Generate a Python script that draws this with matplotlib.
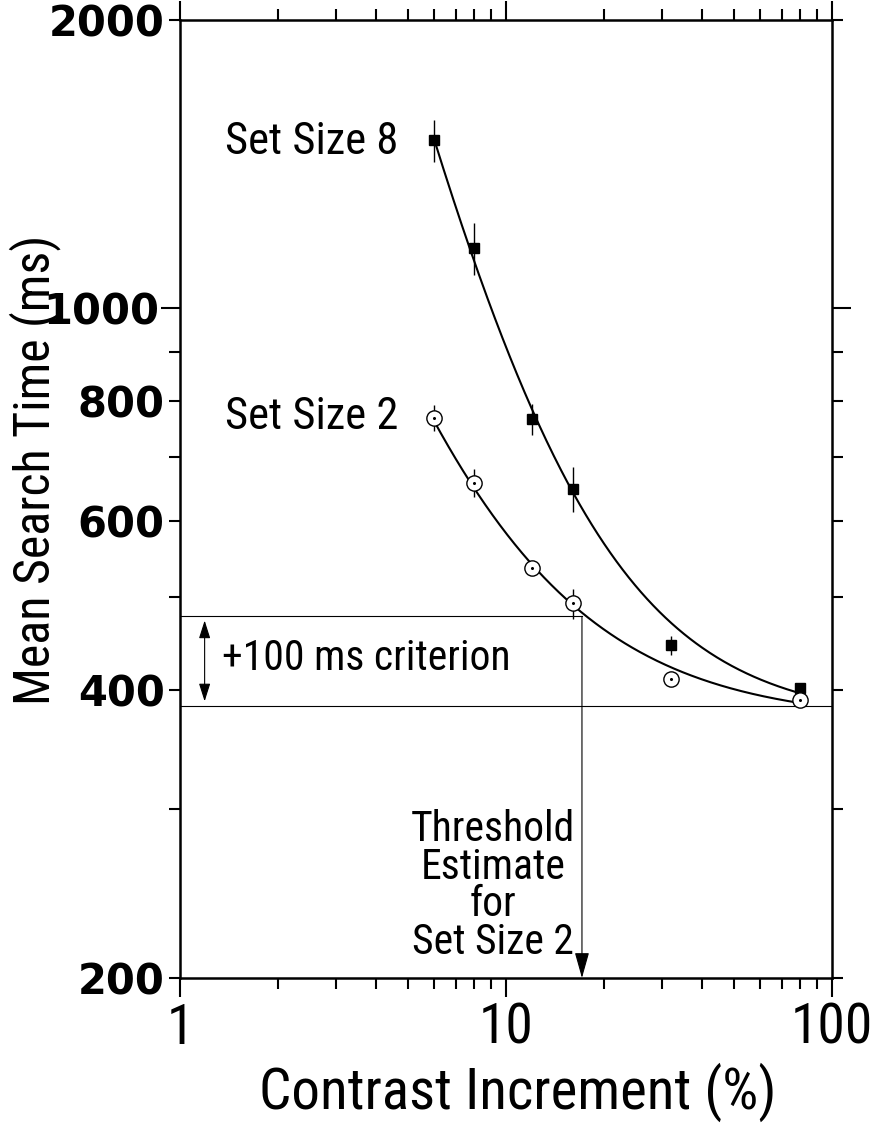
import numpy as np
import matplotlib
matplotlib.use('Agg')
import matplotlib.pyplot as plt
from matplotlib.ticker import FixedLocator, FuncFormatter, NullFormatter

# ---------------- data ----------------
contrast = [6, 8, 12, 16, 32, 80]
rt_set8 = [1498, 1156, 766, 648, 445, 402]
err_set8 = [75, 72, 28, 35, 10, 4]
rt_set2 = [768, 657, 536, 492, 410, 390]
err_set2 = [24, 22, 6, 18, 5, 3]

# fitted curves RT = a + b * contrast^-p (parameters estimated from the drawn curves)
fit_set8 = dict(a=370, b=15330, p=1.452)
fit_set2 = dict(a=370, b=3433, p=1.208)
fit_range = [6, 80]

baseline_rt = 385
criterion_rt = 477
threshold_set2 = 17.1

x_major = [1, 10, 100]
x_minor = [2, 3, 4, 5, 6, 7, 8, 9, 20, 30, 40, 50, 60, 70, 80, 90]
y_major = [1000]
y_minor = [200, 300, 400, 500, 600, 700, 800, 900, 2000]
y_labeled = [200, 400, 600, 800, 1000, 2000]

NARROW = ['Roboto Condensed', 'Archivo Narrow', 'DejaVu Sans']

fig = plt.figure(figsize=(8.74, 11.31), dpi=100)
L, R, T, B = 180, 832, 20, 978
W, H = 874, 1131
ax = fig.add_axes([L / W, 1 - B / H, (R - L) / W, (B - T) / H])
ax.set_xscale('log')
ax.set_yscale('log')
ax.set_xlim(1, 100)
ax.set_ylim(200, 2000)

for s in ax.spines.values():
    s.set_linewidth(1.8)

ax.xaxis.set_major_locator(FixedLocator(x_major))
ax.xaxis.set_minor_locator(FixedLocator(x_minor))
ax.xaxis.set_major_formatter(FuncFormatter(lambda v, p: f"{v:g}"))
ax.xaxis.set_minor_formatter(NullFormatter())
ax.yaxis.set_major_locator(FixedLocator(y_major))
ax.yaxis.set_minor_locator(FixedLocator(y_minor))
lab = lambda v, p: (f"{v:g}" if any(abs(v - t) < 1e-6 for t in y_labeled) else "")
ax.yaxis.set_major_formatter(FuncFormatter(lab))
ax.yaxis.set_minor_formatter(FuncFormatter(lab))

ax.tick_params(which='both', direction='out', top=True, right=True, width=1.5)
ax.tick_params(which='major', length=14)
ax.tick_params(which='minor', length=8)
ax.tick_params(axis='x', which='both', pad=3)
ax.tick_params(axis='y', which='major', pad=1)
ax.tick_params(axis='y', which='minor', pad=3)
for t in ax.get_xticklabels():
    t.set_family(NARROW); t.set_fontsize(40)
for t in ax.get_yticklabels(which='both'):
    t.set_family('DejaVu Sans'); t.set_fontweight('bold'); t.set_fontsize(30)

ax.set_xlabel('Contrast Increment (%)', family=NARROW, fontsize=41, va='center')
ax.xaxis.set_label_coords(0.518, -0.119)
ax.set_ylabel('Mean Search Time (ms)', family=NARROW, fontsize=36, va='center')
ax.yaxis.set_label_coords(-0.222, 0.53)

# fitted curves
xs = np.geomspace(fit_range[0], fit_range[1], 300)
for f in (fit_set8, fit_set2):
    ax.plot(xs, f['a'] + f['b'] * xs ** (-f['p']), color='black', lw=1.5, zorder=3)

# error bars and markers
ax.errorbar(contrast, rt_set8, yerr=err_set8, fmt='none', ecolor='black', elinewidth=1, capsize=0, zorder=2)
ax.errorbar(contrast, rt_set2, yerr=err_set2, fmt='none', ecolor='black', elinewidth=1, capsize=0, zorder=2)
ax.plot(contrast, rt_set8, 's', ms=7.5, color='black', zorder=4)
ax.plot(contrast, rt_set2, 'o', ms=11, mfc='white', mec='black', mew=1, zorder=4)
ax.plot(contrast, rt_set2, 'o', ms=1.2, color='black', zorder=5)

# criterion lines
ax.plot([1, threshold_set2], [criterion_rt, criterion_rt], color='black', lw=0.8, zorder=1)
ax.plot([1, 100], [baseline_rt, baseline_rt], color='black', lw=0.8, zorder=1)
ax.annotate('', xy=(threshold_set2, 200), xytext=(threshold_set2, criterion_rt),
            arrowprops=dict(arrowstyle='-|>,head_length=1.6,head_width=0.45', lw=0.8,
                            color='black', shrinkA=0, shrinkB=0), zorder=1)
ax.annotate('', xy=(1.19, baseline_rt), xytext=(1.19, criterion_rt),
            arrowprops=dict(arrowstyle='<|-|>,head_length=1.1,head_width=0.35', lw=0.8,
                            color='black', shrinkA=3, shrinkB=3))

# texts
ax.text(0.069, 0.873, 'Set Size 8', transform=ax.transAxes, family=NARROW, fontsize=32, ha='left', va='center')
ax.text(0.069, 0.586, 'Set Size 2', transform=ax.transAxes, family=NARROW, fontsize=32, ha='left', va='center')
ax.text(0.064, 0.334, '+100 ms criterion', transform=ax.transAxes, family=NARROW, fontsize=30, ha='left', va='center')
ax.text(0.480, 0.096, 'Threshold\nEstimate\nfor\nSet Size 2', transform=ax.transAxes, family=NARROW,
        fontsize=30, ha='center', va='center', multialignment='center', linespacing=0.89)

fig.savefig('out.png', dpi=100)
